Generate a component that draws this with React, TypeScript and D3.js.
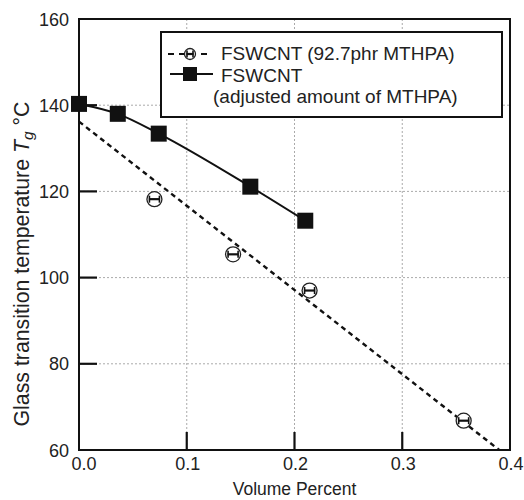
import React from "react";
import * as d3 from "d3";

const squareX = [0.0, 0.036, 0.074, 0.159, 0.21];
const squareY = [140.3, 138.0, 133.4, 121.1, 113.2];
const circleX = [0.07, 0.143, 0.214, 0.357];
const circleY = [118.2, 105.4, 97.0, 66.8];
const fitX = [0.0, 0.39];
const fitY = [136.2, 60];
const xTicks = [0.0, 0.1, 0.2, 0.3, 0.4];
const yTicks = [60, 80, 100, 120, 140, 160];

export default function App() {
  const W = 524, H = 500;
  const L = 79, R = 510, T = 19, B = 450;
  const x = d3.scaleLinear().domain([0, 0.4]).range([L, R]);
  const y = d3.scaleLinear().domain([60, 160]).range([B, T]);
  const font = "Liberation Sans, Arial, Helvetica, sans-serif";
  const sqLine = d3.line<number>().x((d, i) => x(squareX[i])).y((d) => y(d)).curve(d3.curveMonotoneX)(squareY);
  const fitLine = d3.line<number>().x((d, i) => x(fitX[i])).y((d) => y(d))(fitY);

  const circleMark = (cx: number, cy: number, r: number, key: string) => (
    <g key={key}>
      <circle cx={cx} cy={cy} r={r} fill="white" stroke="#222" strokeWidth={1.3} />
      <line x1={cx - r + 2} x2={cx + r - 2} y1={cy} y2={cy} stroke="#111" strokeWidth={2.2} />
      <line x1={cx - r + 2.5} x2={cx - r + 2.5} y1={cy - 3.5} y2={cy + 3.5} stroke="#111" strokeWidth={1.6} />
      <line x1={cx + r - 2.5} x2={cx + r - 2.5} y1={cy - 3.5} y2={cy + 3.5} stroke="#111" strokeWidth={1.6} />
    </g>
  );

  return (
    <svg width={W} height={H} style={{ position: "absolute", left: 0, top: 0 }} fontFamily={font}>
      <rect x={0} y={0} width={W} height={H} fill="white" />
      {xTicks.slice(1, -1).map((t) => (
        <line key={"gx" + t} x1={x(t)} x2={x(t)} y1={T} y2={B} stroke="#aaa" strokeWidth={1} strokeDasharray="2,2" />
      ))}
      {yTicks.slice(1, -1).map((t) => (
        <line key={"gy" + t} x1={L} x2={R} y1={y(t)} y2={y(t)} stroke="#aaa" strokeWidth={1} strokeDasharray="2,2" />
      ))}
      {xTicks.slice(1, -1).map((t) => (
        <line key={"tx" + t} x1={x(t)} x2={x(t)} y1={B} y2={B - 18} stroke="#111" strokeWidth={2.2} />
      ))}
      {yTicks.slice(1, -1).map((t) => (
        <line key={"ty" + t} x1={L} x2={L + 18} y1={y(t)} y2={y(t)} stroke="#111" strokeWidth={2.2} />
      ))}
      <rect x={L} y={T} width={R - L} height={B - T} fill="none" stroke="#111" strokeWidth={2} />
      {xTicks.map((t) => (
        <text key={"lx" + t} x={x(t) + (t === 0 ? 5 : 1)} y={B + 20} textAnchor="middle" fontSize={18} fill="#222">
          {d3.format(".1f")(t)}
        </text>
      ))}
      {yTicks.map((t) => (
        <text key={"ly" + t} x={L - 10} y={y(t) + 6.5} textAnchor="end" fontSize={18} fill="#222">
          {t}
        </text>
      ))}
      <path d={fitLine || ""} fill="none" stroke="#111" strokeWidth={2.4} strokeDasharray="5,4" />
      <path d={sqLine || ""} fill="none" stroke="#111" strokeWidth={2} />
      {squareX.map((v, i) => (
        <rect key={"s" + i} x={x(v) - 8} y={y(squareY[i]) - 8} width={16} height={16} fill="#111" />
      ))}
      {circleX.map((v, i) => circleMark(x(v), y(circleY[i]), 7.5, "c" + i))}
      <rect x={161} y={32} width={341} height={85} fill="white" stroke="#111" strokeWidth={2} />
      <line x1={168} x2={212} y1={54} y2={54} stroke="#111" strokeWidth={2.2} strokeDasharray="6,5" />
      {circleMark(190, 54, 5.5, "legc")}
      <line x1={170} x2={213} y1={74} y2={74} stroke="#111" strokeWidth={2} />
      <rect x={183} y={67} width={14} height={14} fill="#111" />
      <text x={221} y={60} fontSize={19} fill="#222">FSWCNT (92.7phr MTHPA)</text>
      <text x={221} y={81.5} fontSize={19} fill="#222">FSWCNT</text>
      <text x={213} y={103} fontSize={19} fill="#222">(adjusted amount of MTHPA)</text>
      <text x={(L + R) / 2} y={495} textAnchor="middle" fontSize={17.5} fill="#222">Volume Percent</text>
      <text transform={`translate(29, 264) rotate(-90)`} textAnchor="middle" fontSize={21.3} fill="#222">
        Glass transition temperature <tspan fontStyle="italic">T</tspan>
        <tspan fontStyle="italic" fontSize={15.5} dy={4}>g</tspan>
        <tspan dy={-4}> °C</tspan>
      </text>
    </svg>
  );
}
